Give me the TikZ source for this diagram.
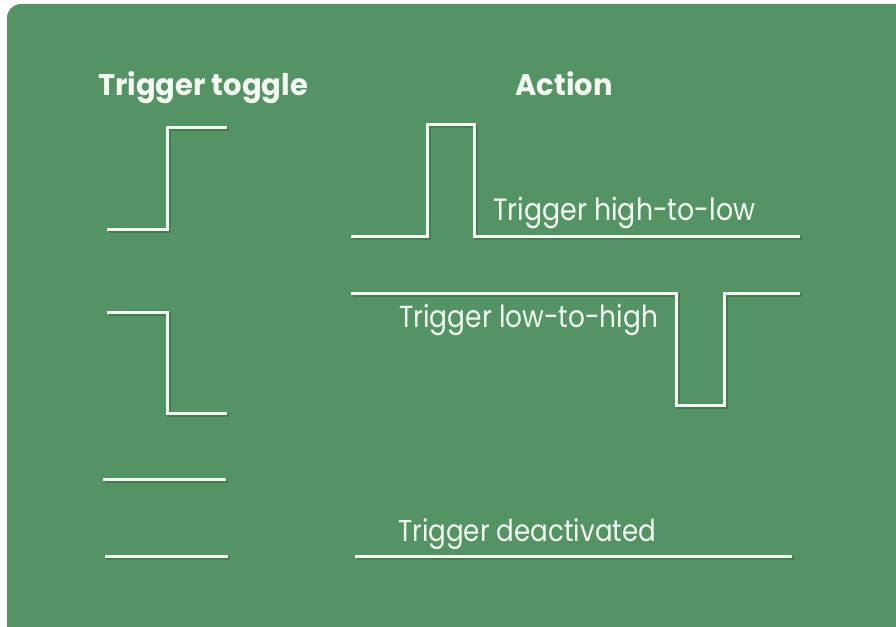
\documentclass[tikz,border=0pt]{standalone}
\usepackage{fontspec}
\usepackage{graphicx}
\setmainfont{Poppins}
\definecolor{board}{RGB}{84,148,100}
\definecolor{chalk}{RGB}{244,250,242}
% a label set at a given printed width, with a little extra height
\newcommand{\fitto}[3]{\scalebox{1}[#2]{\resizebox{#1}{!}{#3}}}
\begin{document}
\begin{tikzpicture}[x=1pt,y=-1pt,
  wave/.style={draw=chalk,line width=3pt,line join=miter,
    preaction={draw=black,opacity=0.16,line width=4pt,
      transform canvas={shift={(1.5pt,-2pt)}}}},
  heading/.style={text=chalk,inner sep=0pt,anchor=base,
    font=\fontsize{28}{28}\selectfont\bfseries},
  caption/.style={text=chalk,inner sep=0pt,anchor=base west,
    font=\fontsize{27}{27}\selectfont}]
  % canvas and board
  \clip (0,0) rectangle (896,626);
  \fill[white] (0,0) rectangle (896,626);
  \fill[board,rounded corners=14pt] (7,4) rectangle (920,640);

  % column headings
  \node[heading] (toggle) at (203,95) {\fitto{210pt}{1.03}{Trigger toggle}};
  \node[heading] (action) at (564,95) {\fitto{97pt}{1.03}{Action}};

  % toggle waveforms
  \draw[wave] (107,229) -- (167,229) -- (167,127) -- (227,127);
  \draw[wave] (107,312) -- (167,312) -- (167,413) -- (227,413);
  \draw[wave] (103,479) -- (226,479);
  \draw[wave] (105,556) -- (228,556);

  % action waveforms
  \draw[wave] (351,236) -- (427,236) -- (427,124) -- (474,124) -- (474,236) -- (800,236);
  \draw[wave] (351,293) -- (676,293) -- (676,405) -- (724,405) -- (724,293) -- (800,293);
  \draw[wave] (355,556) -- (792,556);

  % action captions
  \node[caption] (hilo) at (493,220) {\fitto{262pt}{1.15}{Trigger high-to-low}};
  \node[caption] (lohi) at (399,327) {\fitto{259pt}{1.15}{Trigger low-to-high}};
  \node[caption] (off) at (398,541) {\fitto{258pt}{1.15}{Trigger deactivated}};
\end{tikzpicture}
\end{document}
